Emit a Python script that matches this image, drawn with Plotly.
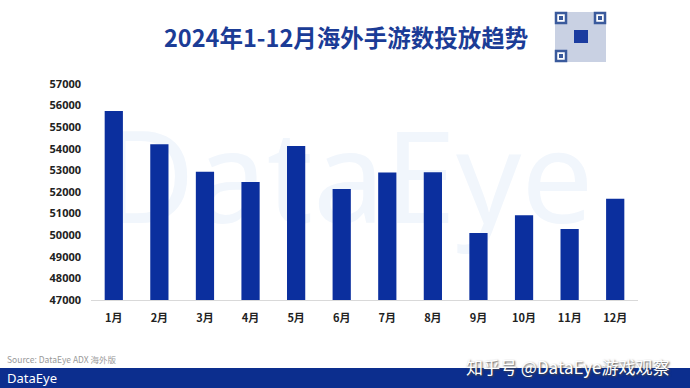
import plotly.graph_objects as go

months = ["1月", "2月", "3月", "4月", "5月", "6月", "7月", "8月", "9月", "10月", "11月", "12月"]
values = [55750, 54210, 52940, 52460, 54130, 52140, 52900, 52910, 50100, 50920, 50290, 51690]
y_ticks = list(range(47000, 57001, 1000))

W, H = 690, 388
L, R, T, B = 91, 52, 84, 88
PW, PH = W - L - R, H - T - B


def px(x):
    return (x - L) / PW


def py(y):
    return (H - B - y) / PH


bar_color = "#0b2f9e"
title_color = "#1b3c96"

fig = go.Figure()
fig.add_trace(go.Bar(x=months, y=values, marker=dict(color=bar_color, line=dict(width=0)),
                     hoverinfo="x+y"))

shapes = []
# background watermark
shapes.append(dict(type="rect", xref="paper", yref="paper", x0=px(85), x1=px(610), y0=py(250), y1=py(115),
                   line=dict(width=0), fillcolor="rgba(0,0,0,0)", layer="below",
                   label=dict(text="DataEye", font=dict(size=128, color="#f1f6fc", family="Noto Sans"),
                              textposition="middle center")))
# footer band
shapes.append(dict(type="rect", xref="paper", yref="paper", x0=px(0), x1=px(W), y0=py(H + 2), y1=py(368),
                   line=dict(width=0), fillcolor="#0c2e8e", layer="above"))
# QR code placeholder
shapes.append(dict(type="rect", xref="paper", yref="paper", x0=px(555), x1=px(606), y0=py(62), y1=py(12),
                   line=dict(width=0), fillcolor="#c9d1e3", layer="above"))
for (qx, qy) in [(556, 13), (595, 13), (556, 51)]:
    shapes.append(dict(type="rect", xref="paper", yref="paper", x0=px(qx), x1=px(qx + 10), y0=py(qy + 10), y1=py(qy),
                       line=dict(width=2.5, color="#3a5a9c"), fillcolor="#ffffff", layer="above"))
    shapes.append(dict(type="rect", xref="paper", yref="paper", x0=px(qx + 3), x1=px(qx + 7), y0=py(qy + 7), y1=py(qy + 3),
                       line=dict(width=0), fillcolor="#3a5a9c", layer="above"))
shapes.append(dict(type="rect", xref="paper", yref="paper", x0=px(574), x1=px(588), y0=py(43), y1=py(30),
                   line=dict(width=0), fillcolor="#1b3ca0", layer="above"))

annotations = [
    dict(text="<b>2024年1-12月海外手游数投放趋势</b>", xref="paper", yref="paper", x=px(346), y=py(37),
         xanchor="center", yanchor="middle", showarrow=False,
         font=dict(size=23.5, color=title_color, family="Noto Sans CJK SC")),
    dict(text="Source: DataEye ADX 海外版", xref="paper", yref="paper", x=px(5), y=py(359),
         xanchor="left", yanchor="middle", showarrow=False,
         font=dict(size=8.5, color="#9a9a9a", family="Noto Sans CJK SC")),
    dict(text="DataEye", xref="paper", yref="paper", x=px(5), y=py(378),
         xanchor="left", yanchor="middle", showarrow=False,
         font=dict(size=13, color="#ffffff", family="Noto Sans")),
    dict(text="知乎号 @DataEye游戏观察", xref="paper", yref="paper", x=px(568), y=py(366),
         xanchor="center", yanchor="middle", showarrow=False,
         font=dict(size=17, color="#ffffff", family="Noto Sans CJK SC", shadow="1px 1px 2px #444")),
]

fig.update_layout(
    width=W, height=H,
    margin=dict(l=L, r=R, t=T, b=B, pad=0),
    paper_bgcolor="#ffffff", plot_bgcolor="rgba(0,0,0,0)",
    bargap=0.6, showlegend=False,
    shapes=shapes, annotations=annotations,
    xaxis=dict(showgrid=False, showline=True, linecolor="#d9d9d9", linewidth=1, ticks="",
               tickfont=dict(size=11, color="#222222", family="Noto Sans CJK SC", weight="bold"),
               ticklabelstandoff=8, fixedrange=True),
    yaxis=dict(range=[47000, 57000], tickvals=y_ticks, ticktext=[str(v) for v in y_ticks],
               showgrid=False, zeroline=False, showline=False, ticks="",
               tickfont=dict(size=11, color="#222222", family="Open Sans", weight="bold"),
               ticklabelstandoff=9, fixedrange=True),
)

fig.write_html("out.html", config={"displayModeBar": False},
               post_script="document.body.style.margin='0';document.body.style.overflow='hidden';")
